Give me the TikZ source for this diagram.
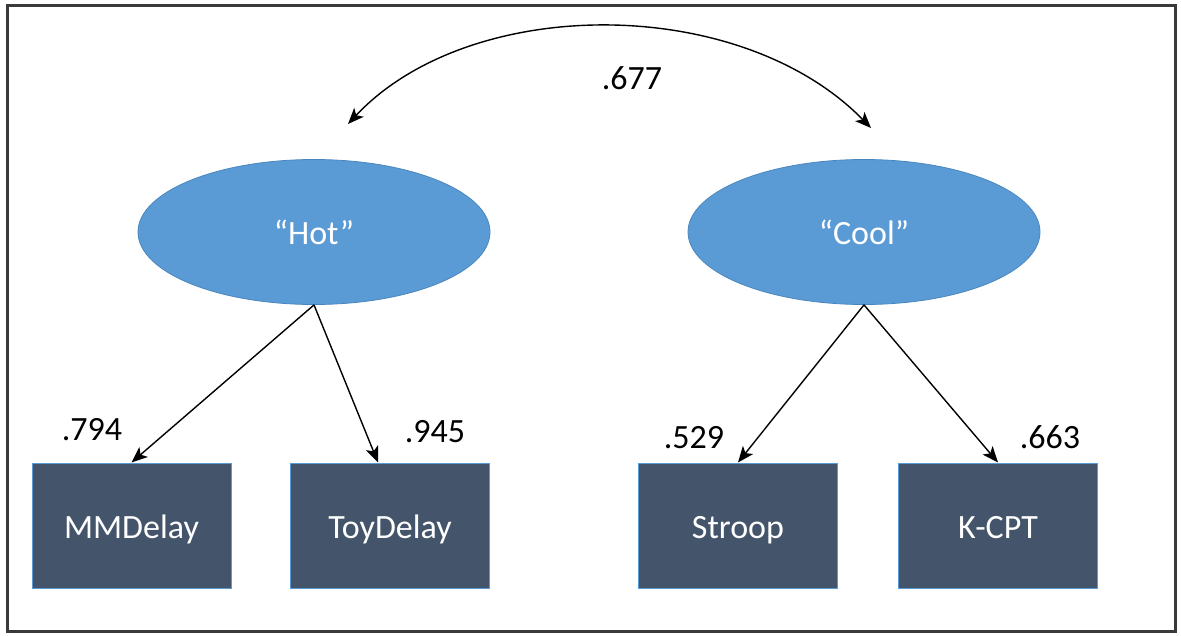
\documentclass[tikz,border=0pt]{standalone}
\usepackage{fontspec}
\setmainfont{Carlito}
\usetikzlibrary{shapes.geometric,arrows.meta}
\definecolor{latentblue}{HTML}{5B9BD5}
\definecolor{latentedge}{HTML}{4A86BE}
\definecolor{boxslate}{HTML}{44546A}
\definecolor{frameGray}{HTML}{3A3A3A}
\tikzset{
  latent/.style={ellipse, fill=latentblue, draw=latentedge, line width=0.8pt,
    minimum width=352pt, minimum height=145pt, inner sep=0pt, text=white,
    font=\fontsize{34}{40}\selectfont},
  observed/.style={rectangle, fill=boxslate, draw=latentblue, line width=1pt,
    minimum width=199pt, minimum height=125pt, inner sep=0pt, text=white,
    text height=25pt, text depth=0pt,
    font=\fontsize{34}{40}\selectfont},
  coef/.style={font=\fontsize{34}{40}\selectfont, text=black, inner sep=0pt},
  path/.style={draw=black, line width=1.4pt, -{Stealth[length=16pt,width=13pt,inset=4pt]}},
  covpath/.style={draw=black, line width=1.4pt, {Stealth[length=16pt,width=13pt,inset=4pt]}-{Stealth[length=16pt,width=13pt,inset=4pt]}}
}
\begin{document}
\begin{tikzpicture}[x=1pt,y=-1pt]
\useasboundingbox (0,0) rectangle (1181,635);
\draw[frameGray, line width=3pt] (7,5) rectangle (1175,631);
\node[latent] (hot) at (314,232) {“Hot”};
\node[latent] (cool) at (864,232) {“Cool”};
\node[observed] (mm) at (131.5,525.5) {MMDelay};
\node[observed] (toy) at (390,525.5) {ToyDelay};
\node[observed] (stroop) at (738,525.5) {Stroop};
\node[observed] (kcpt) at (998,525.5) {K-CPT};
\draw[path] (hot.south) -- (mm.north);
\draw[path] (hot.south) -- ([xshift=-12pt]toy.north);
\draw[path] (cool.south) -- (stroop.north);
\draw[path] (cool.south) -- (kcpt.north);
\coordinate (covL) at (348,124);
\coordinate (covR) at (871,128);
\draw[covpath] (covL) .. controls (470,-6) and (740,-6) .. (covR);
\node[coef] (c677) at (632,78) {.677};
\node[coef] (c794) at (92,430) {.794};
\node[coef] (c945) at (435,432) {.945};
\node[coef] (c529) at (694,438) {.529};
\node[coef] (c663) at (1050,437) {.663};
\end{tikzpicture}
\end{document}
